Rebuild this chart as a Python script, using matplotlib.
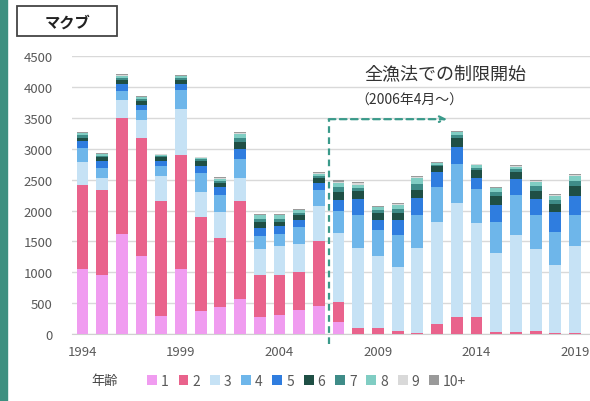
import numpy as np
import matplotlib
matplotlib.use('Agg')
import matplotlib.pyplot as plt
from matplotlib.patches import Rectangle

plt.rcParams['font.family'] = ['Noto Sans CJK JP', 'DejaVu Sans']

years = list(range(1994, 2020))
ages = ['1', '2', '3', '4', '5', '6', '7', '8', '9', '10+']

# catch at age (tonnes)
a1 = [1050, 960, 1620, 1260, 290, 1050, 380, 430, 570, 270, 300, 390, 450,
      190, 0, 0, 0, 0, 0, 0, 0, 0, 0, 0, 0, 0]
a2 = [1370, 1380, 1880, 1910, 1860, 1850, 1520, 1130, 1590, 680, 650, 610, 1060,
      330, 90, 100, 50, 10, 160, 270, 280, 40, 40, 50, 15, 15]
a3 = [360, 190, 290, 300, 410, 750, 400, 420, 360, 430, 470, 460, 570,
      1120, 1300, 1160, 1030, 1380, 1650, 1860, 1520, 1280, 1570, 1320, 1105, 1405]
a4 = [230, 160, 150, 160, 160, 300, 300, 270, 320, 210, 200, 270, 250,
      360, 530, 420, 520, 530, 570, 620, 550, 500, 640, 550, 540, 510]
a5 = [120, 110, 110, 80, 80, 100, 120, 130, 160, 130, 130, 110, 110,
      170, 260, 160, 240, 280, 250, 280, 180, 270, 260, 260, 310, 310]
a6 = [50, 60, 70, 60, 60, 70, 80, 70, 110, 90, 60, 80, 80,
      130, 130, 120, 120, 140, 90, 140, 120, 150, 120, 130, 140, 160]
a7 = [40, 25, 35, 35, 25, 30, 30, 35, 70, 60, 60, 45, 40,
      80, 60, 50, 60, 90, 25, 50, 45, 60, 40, 80, 60, 80]
a8 = [30, 25, 30, 30, 20, 25, 20, 30, 60, 50, 50, 40, 35,
      60, 50, 40, 70, 90, 25, 50, 45, 60, 40, 80, 65, 80]
a9 = [10, 10, 10, 10, 5, 10, 10, 10, 20, 15, 15, 10, 10,
      20, 20, 15, 20, 20, 5, 10, 10, 10, 10, 15, 10, 15]
a10 = [20, 10, 15, 15, 10, 15, 10, 15, 20, 15, 15, 15, 15,
       30, 20, 15, 20, 20, 5, 10, 10, 10, 10, 15, 15, 15]

series = [a1, a2, a3, a4, a5, a6, a7, a8, a9, a10]
colors = ['#f09cf0', '#e9638c', '#c6e2f5', '#6eb6ea', '#2f7ddf',
          '#1f4f45', '#3f8c88', '#80cdc3', '#d9d9d9', '#9a9a9a']

fig = plt.figure(figsize=(5.9, 4.02), dpi=100)
ax = fig.add_axes([0.122, 0.1667, 0.878, 0.691])

bottom = np.zeros(len(years))
for lab, vals, c in zip(ages, series, colors):
    ax.bar(years, vals, 0.6, bottom=bottom, color=c, label=lab, zorder=3)
    bottom += np.array(vals)

ax.set_xlim(1993.47, 2019.76)
ax.set_ylim(0, 4500)
ax.set_yticks(range(0, 4501, 500))
ax.set_xticks([1994, 1999, 2004, 2009, 2014, 2019])
ax.grid(axis='y', color='#d9d9d9', linewidth=1, zorder=0)
for s in ['top', 'right', 'left']:
    ax.spines[s].set_visible(False)
ax.spines['bottom'].set_color('#d0d0d0')
ax.tick_params(length=0, labelsize=9.5, labelcolor='#595959')
ax.tick_params(axis='y', pad=14)
ax.tick_params(axis='x', pad=8)

# regulation start marker
lc = '#3a9a8a'
ax.plot([2006.5, 2006.5], [-170, 3480], ls=(0, (3, 2)), color=lc, lw=1.6,
        clip_on=False, zorder=4)
ax.annotate('', xy=(2012.5, 3480), xytext=(2006.5, 3480),
            arrowprops=dict(arrowstyle='->', color=lc, lw=1.6,
                            linestyle=(0, (3, 2)), shrinkA=0, shrinkB=0),
            zorder=4)
ax.text(2012.4, 4230, '全漁法での制限開始', ha='center', va='center',
        fontsize=13, color='#333333')
ax.text(2010.6, 3800, '（2006年4月～）', ha='center', va='center',
        fontsize=10, color='#333333')

# species label box
fig.patches.append(Rectangle((0.029, 0.908), 0.169, 0.075,
                             transform=fig.transFigure, fc='white',
                             ec='#444444', lw=1.3))
fig.text(0.1136, 0.945, 'マクブ', ha='center', va='center', fontsize=11,
         fontweight='bold', color='#222222')
fig.patches.append(Rectangle((0, 0), 0.012, 1, transform=fig.transFigure,
                             color='#3d9080', zorder=0))

fig.text(0.178, 0.05, '年齢', ha='center', va='center', fontsize=9.5,
         color='#444444')
fig.legend(loc='center', bbox_to_anchor=(0.52, 0.05), ncol=10, frameon=False,
           fontsize=10, handlelength=0.7, handleheight=0.7, handletextpad=0.3,
           columnspacing=0.7, labelcolor='#595959')

fig.savefig('out.png', dpi=100)
